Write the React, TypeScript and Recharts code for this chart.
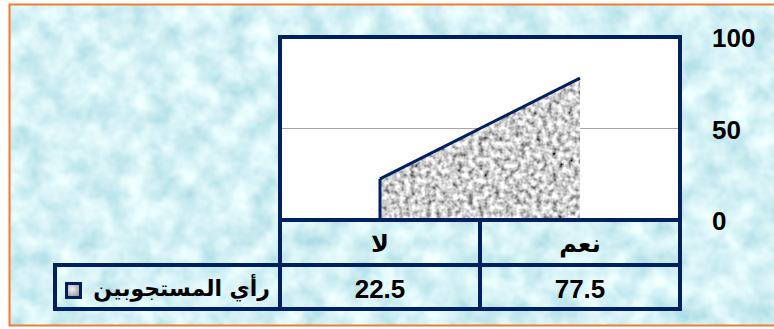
import React from "react";
import {
  AreaChart,
  Area,
  XAxis,
  YAxis,
  CartesianGrid,
  ReferenceLine,
} from "recharts";

// categories are listed in sheet order; the x axis is reversed (RTL chart)
const categories = ["نعم", "لا"];
const respondents = [77.5, 22.5];
const yTicks = [0, 50, 100];
const seriesName = "رأي المستجوبين";

const W = 774;
const H = 329;
const PLOT_LEFT = 280;
const PLOT_RIGHT = 680;
const PLOT_TOP = 37;
const PLOT_BOTTOM = 220;
const ROW1_BOTTOM = 265;
const ROW2_BOTTOM = 309;
const LEGEND_LEFT = 55;
const NAVY = "#002060";
const NUM_FONT = "'Liberation Sans', Arial, sans-serif";
const AR_FONT = "'DejaVu Sans', 'Liberation Sans', sans-serif";

const chartData = categories.map((c, i) => ({ name: c, value: respondents[i] }));

const CategoryTick = (props: any) => {
  const { x, payload } = props;
  const row = chartData.find((d) => d.name === payload.value);
  return (
    <g>
      <text
        x={x}
        y={(PLOT_BOTTOM + ROW1_BOTTOM) / 2 + 1}
        textAnchor="middle"
        dominantBaseline="central"
        fontFamily={AR_FONT}
        fontWeight="bold"
        fontSize={24}
        fill="#000"
      >
        {payload.value}
      </text>
      <text
        x={x}
        y={(ROW1_BOTTOM + ROW2_BOTTOM) / 2 + 2}
        textAnchor="middle"
        dominantBaseline="central"
        fontFamily={NUM_FONT}
        fontWeight="bold"
        fontSize={26}
        fill="#000"
      >
        {row ? row.value : ""}
      </text>
    </g>
  );
};

const ValueTick = (props: any) => {
  const { y, payload } = props;
  return (
    <text
      x={PLOT_RIGHT + 32}
      y={y + 1}
      textAnchor="start"
      dominantBaseline="central"
      fontFamily={NUM_FONT}
      fontWeight="bold"
      fontSize={26}
      fill="#000"
    >
      {payload.value}
    </text>
  );
};

export default function App() {
  const band = (PLOT_RIGHT - PLOT_LEFT) / categories.length;

  return (
    <div style={{ position: "absolute", left: 0, top: 0, width: W, height: H, background: "#fff" }}>
      <svg width={W} height={H} style={{ position: "absolute", left: 0, top: 0 }}>
        <defs>
          <filter id="water" x="0" y="0" width="100%" height="100%">
            <feTurbulence type="fractalNoise" baseFrequency="0.04" numOctaves="3" seed="7" />
            <feColorMatrix
              type="matrix"
              values="0.7 0 0 0 0.32  0.45 0 0 0 0.66  0.35 0 0 0 0.74  0 0 0 0 1"
            />
          </filter>
          <filter id="stoneNoise" x="0" y="0" width="100%" height="100%">
            <feTurbulence type="fractalNoise" baseFrequency="0.19" numOctaves="2" seed="3" />
            <feColorMatrix
              type="matrix"
              values="1.7 0 0 0 -0.22  1.7 0 0 0 -0.22  1.7 0 0 0 -0.22  0 0 0 0 1"
            />
          </filter>
          <pattern id="stone" patternUnits="userSpaceOnUse" width={W} height={H}>
            <rect width={W} height={H} fill="#999" />
            <rect width={W} height={H} filter="url(#stoneNoise)" />
          </pattern>
          <radialGradient id="legendKey" cx="40%" cy="40%" r="70%">
            <stop offset="0%" stopColor="#f2f2f2" />
            <stop offset="100%" stopColor="#8c8c8c" />
          </radialGradient>
        </defs>
        <rect x={9.5} y={4.5} width={W} height={321} fill="#a9dde6" />
        <rect x={9.5} y={4.5} width={W} height={321} filter="url(#water)" />
        <rect x={9.5} y={4.5} width={W} height={321} fill="none" stroke="#ed7d31" strokeWidth={2} />
      </svg>

      <div style={{ position: "absolute", left: 0, top: 0 }}>
        <AreaChart
          width={W}
          height={H}
          data={chartData}
          margin={{ top: PLOT_TOP, left: PLOT_LEFT, right: 0, bottom: 0 }}
        >
          <CartesianGrid vertical={false} fill="#fff" stroke="#a6a6a6" strokeWidth={1} />
          <XAxis
            dataKey="name"
            reversed
            height={H - PLOT_BOTTOM}
            padding={{ left: band / 2, right: band / 2 }}
            axisLine={false}
            tickLine={false}
            interval={0}
            tick={<CategoryTick />}
          />
          <YAxis
            orientation="right"
            width={W - PLOT_RIGHT}
            domain={[0, 100]}
            ticks={yTicks}
            axisLine={false}
            tickLine={false}
            tick={<ValueTick />}
          />
          <Area
            type="linear"
            dataKey="value"
            name={seriesName}
            stroke={NAVY}
            strokeWidth={3}
            fill="url(#stone)"
            fillOpacity={1}
            isAnimationActive={false}
          />
          <ReferenceLine
            segment={[
              { x: categories[1], y: 0 },
              { x: categories[1], y: respondents[1] },
            ]}
            stroke={NAVY}
            strokeWidth={3}
          />
        </AreaChart>
      </div>

      <svg width={W} height={H} style={{ position: "absolute", left: 0, top: 0, pointerEvents: "none" }}>
        <g stroke={NAVY} strokeWidth={4} fill="none" strokeLinecap="square">
          <rect x={PLOT_LEFT} y={PLOT_TOP} width={PLOT_RIGHT - PLOT_LEFT} height={PLOT_BOTTOM - PLOT_TOP} />
          <line x1={PLOT_LEFT} y1={PLOT_BOTTOM} x2={PLOT_LEFT} y2={ROW2_BOTTOM} />
          <line x1={PLOT_RIGHT} y1={PLOT_BOTTOM} x2={PLOT_RIGHT} y2={ROW2_BOTTOM} />
          <line x1={PLOT_LEFT + band} y1={PLOT_BOTTOM} x2={PLOT_LEFT + band} y2={ROW2_BOTTOM} />
          <line x1={LEGEND_LEFT} y1={ROW1_BOTTOM} x2={PLOT_RIGHT} y2={ROW1_BOTTOM} />
          <line x1={LEGEND_LEFT} y1={ROW2_BOTTOM} x2={PLOT_RIGHT} y2={ROW2_BOTTOM} />
          <line x1={LEGEND_LEFT} y1={ROW1_BOTTOM} x2={LEGEND_LEFT} y2={ROW2_BOTTOM} />
        </g>
        <rect x={66.5} y={283.5} width={14} height={14} fill="url(#legendKey)" stroke={NAVY} strokeWidth={3} />
        <text
          x={PLOT_LEFT - 10}
          y={(ROW1_BOTTOM + ROW2_BOTTOM) / 2 + 1}
          textAnchor="end"
          dominantBaseline="central"
          fontFamily={AR_FONT}
          fontWeight="bold"
          fontSize={22}
          fill="#000"
        >
          {seriesName}
        </text>
      </svg>
    </div>
  );
}
